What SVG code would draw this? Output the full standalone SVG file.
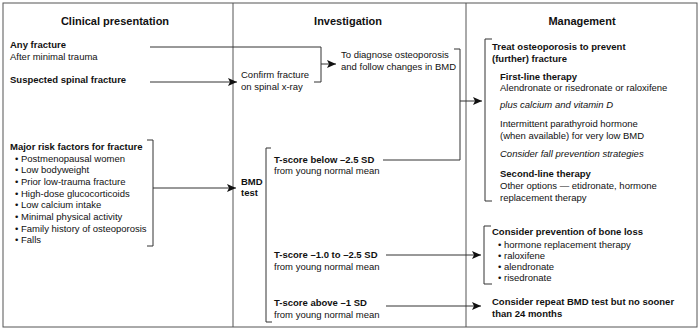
<svg xmlns="http://www.w3.org/2000/svg" width="700" height="331" viewBox="0 0 700 331">
<style>
text{font-family:"Liberation Sans",Arial,Helvetica,sans-serif;font-size:9.5px;fill:#111}
.h{font-size:11px;font-weight:bold;text-anchor:middle}
.b{font-weight:bold}
.i{font-style:italic}
.frame{fill:none;stroke:#555;stroke-width:1}
.c{fill:none;stroke:#333;stroke-width:1}
</style>
<defs>
<marker id="ah" markerWidth="10" markerHeight="8" refX="9" refY="4" orient="auto" markerUnits="userSpaceOnUse">
<path d="M0,0 L9,4 L0,8 L2,4 Z" fill="#111"/>
</marker>
</defs>
<rect class="frame" x="3" y="3" width="694" height="324"/>
<line class="frame" x1="233" y1="3" x2="233" y2="327"/>
<line class="frame" x1="466" y1="3" x2="466" y2="327"/>
<text class="h" x="115" y="25">Clinical presentation</text>
<text class="h" x="348" y="25">Investigation</text>
<text class="h" x="582" y="25">Management</text>

<g id="any-fracture"><text class="b" x="10" y="48">Any fracture</text><text x="10" y="60">After minimal trauma</text></g>
<g id="spinal-fracture"><text class="b" x="10" y="83">Suspected spinal fracture</text></g>
<g id="risk-factors">
<text class="b" x="10" y="150">Major risk factors for fracture</text>
<text x="15" y="161.5">• Postmenopausal women</text>
<text x="15" y="173.2">• Low bodyweight</text>
<text x="15" y="184.9">• Prior low-trauma fracture</text>
<text x="15" y="196.6">• High-dose glucocorticoids</text>
<text x="15" y="208.3">• Low calcium intake</text>
<text x="15" y="220">• Minimal physical activity</text>
<text x="15" y="231.7">• Family history of osteoporosis</text>
<text x="15" y="243.4">• Falls</text>
</g>
<g id="confirm"><text x="241" y="78">Confirm fracture</text><text x="241" y="90">on spinal x-ray</text></g>
<g id="diagnose"><text x="341" y="58">To diagnose osteoporosis</text><text x="341" y="70">and follow changes in BMD</text></g>
<g id="bmd-test"><text class="b" x="241" y="185">BMD</text><text class="b" x="241" y="196">test</text></g>
<g id="t-below"><text class="b" x="274" y="162.5">T-score below –2.5 SD</text><text x="274" y="174">from young normal mean</text></g>
<g id="t-mid"><text class="b" x="274" y="258">T-score –1.0 to –2.5 SD</text><text x="274" y="269.5">from young normal mean</text></g>
<g id="t-above"><text class="b" x="274" y="306">T-score above –1 SD</text><text x="274" y="317.5">from young normal mean</text></g>
<g id="treat">
<text class="b" x="492" y="50">Treat osteoporosis to prevent</text>
<text class="b" x="492" y="61.5">(further) fracture</text>
<text class="b" x="500" y="79.5">First-line therapy</text>
<text x="500" y="91">Alendronate or risedronate or raloxifene</text>
<text class="i" x="500" y="108">plus calcium and vitamin D</text>
<text x="500" y="126.5">Intermittent parathyroid hormone</text>
<text x="500" y="139">(when available) for very low BMD</text>
<text class="i" x="500" y="157">Consider fall prevention strategies</text>
<text class="b" x="500" y="177">Second-line therapy</text>
<text x="500" y="189">Other options — etidronate, hormone</text>
<text x="500" y="201">replacement therapy</text>
</g>
<g id="prevention">
<text class="b" x="492" y="235">Consider prevention of bone loss</text>
<text x="498" y="247.5">• hormone replacement therapy</text>
<text x="498" y="258.8">• raloxifene</text>
<text x="498" y="270">• alendronate</text>
<text x="498" y="281.3">• risedronate</text>
</g>
<g id="repeat"><text class="b" x="492" y="305">Consider repeat BMD test but no sooner</text><text class="b" x="492" y="316.5">than 24 months</text></g>

<g id="connectors">
<path class="c" d="M150,47 H321 V82 H314"/>
<path class="c" d="M321,64 H336" marker-end="url(#ah)"/>
<path class="c" d="M150,82 H237" marker-end="url(#ah)"/>
<path class="c" d="M147,140 H153 V246 H147"/>
<path class="c" d="M153,188 H236" marker-end="url(#ah)"/>
<path class="c" d="M454,49 H460 V160 H383"/>
<path class="c" d="M460,101 H482" marker-end="url(#ah)"/>
<path class="c" d="M271,148 H266 V322 H272"/>
<path class="c" d="M386,255 H481" marker-end="url(#ah)"/>
<path class="c" d="M386,306 H481" marker-end="url(#ah)"/>
<path class="c" d="M492,39 H485 V201 H492"/>
<path class="c" d="M491,226 H484 V284 H492"/>
</g>
</svg>
